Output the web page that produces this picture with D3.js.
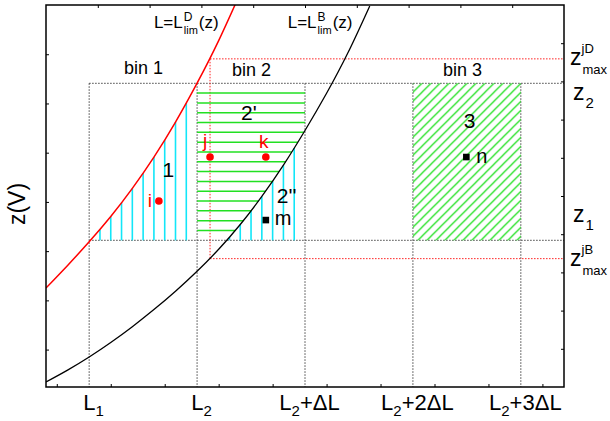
<!DOCTYPE html>
<html><head><meta charset="utf-8">
<script src="https://cdn.jsdelivr.net/npm/d3@7/dist/d3.min.js"></script>
<style>
body{margin:0;background:#fff}
svg{display:block}
text{font-family:Arial,"Liberation Sans",sans-serif;fill:#000}
</style>
</head><body>
<svg id="c" width="610" height="421"></svg>
<script>
// ---------------- data ----------------
const binEdges = [1, 2, 3, 4, 5];               // L1, L2, L2+ΔL, L2+2ΔL, L2+3ΔL
const binEdgeMain = ["L", "L", "L", "L", "L"];
const binEdgeSub = ["1", "2", "2", "2", "2"];
const binEdgeTail = ["", "", "+ΔL", "+2ΔL", "+3ΔL"];
const z1 = 3.84, z2 = 7.95;
const Lj = 2.12, zjD = 8.59, zjB = 3.36;
// L = L_lim^D(z)  (red) and L = L_lim^B(z) (black), as [L, z]
const curveD = [[0.6,2.592],[0.8,3.183],[1.0,3.801],[1.2,4.463],[1.4,5.199],[1.6,6.018],[1.8,6.935],[2.0,7.953],[2.2,9.068],[2.4,10.31]];
const curveB = [[0.6,0.131],[0.8,0.442],[1.0,0.785],[1.2,1.165],[1.4,1.579],[1.6,2.026],[1.8,2.508],[2.0,3.029],[2.2,3.605],[2.4,4.254],[2.6,4.99],[2.8,5.809],[3.0,6.715],[3.2,7.689],[3.4,8.762],[3.6,9.976]];
const redPoints = [{name:"i",L:1.646,z:4.87,dx:-7,dy:6,anchor:"end"},{name:"j",L:2.12,z:6.02,dx:-5,dy:-10,anchor:"middle"},{name:"k",L:2.637,z:6.02,dx:-2,dy:-9,anchor:"middle"}];
const blackPoints = [{name:"m",L:2.637,z:4.37,dx:9,dy:5},{name:"n",L:4.495,z:6.02,dx:10,dy:6}];
const binNames = ["bin 1", "bin 2", "bin 3"];
const binLabelL = [1.503, 2.505, 4.46];
const binLabelZ = [8.19, 8.14, 8.14];
const regionNames = ["1", "2'", "2''", "3"];
const regionL = [1.734, 2.48, 2.83, 4.526];
const regionZ = [5.505, 6.99, 4.82, 6.78];
const bottomTicks = [0.7,1.2,1.7,2.2,2.7,3.2,3.7,4.2,4.7,5.2];
const topTicks = [1.08,1.56,2.04,2.52,3.0,3.48,3.96,4.44,4.92];
const leftTicks = [1,2,3,4,5,6,7];
const rightTicks = [1,2,3,4,5,6,7,8,9];

// ---------------- layout ----------------
const X0 = 46, X1 = 564, Y0 = 5, Y1 = 387;
const x = d3.scaleLinear([0.6, 5.4], [X0, X1]);
const y = d3.scaleLinear([0, 10], [Y1, Y0]);
const yLeft = d3.scaleLinear([0.24, 8], [Y1, Y0]);
const svg = d3.select("#c");
const GREEN = "#22e022", CYAN = "#12e6f8";

svg.append("defs").append("clipPath").attr("id","plot")
  .append("rect").attr("x",X0).attr("y",Y0).attr("width",X1-X0).attr("height",Y1-Y0);
const pat = svg.select("defs").append("pattern").attr("id","diag")
  .attr("patternUnits","userSpaceOnUse").attr("width",9).attr("height",9)
  .attr("x", x(binEdges[3])).attr("y", y(z2));
pat.append("path").attr("d","M0,9L9,0M-2,2L2,-2M7,11L11,7")
  .attr("stroke",GREEN).attr("stroke-width",1.3);

const plot = svg.append("g").attr("clip-path","url(#plot)");

const line = d3.line().x(d => x(d[0])).y(d => y(d[1])).curve(d3.curveNatural);
function sample(data){
  const p = svg.append("path").attr("d", line(data)).attr("fill","none");
  const n = p.node(), len = n.getTotalLength(), pts = [];
  for (let s = 0; s <= len; s += 0.5){ const q = n.getPointAtLength(s); pts.push([q.x,q.y]); }
  p.remove(); return pts;
}
const sD = sample(curveD), sB = sample(curveB);
function yAtX(pts, px){
  for (let i=1;i<pts.length;i++){const a=pts[i-1],b=pts[i];
    if ((a[0]-px)*(b[0]-px)<=0 && a[0]!==b[0]) return a[1]+(b[1]-a[1])*(px-a[0])/(b[0]-a[0]);}
  return null;
}
function xAtY(pts, py){
  for (let i=1;i<pts.length;i++){const a=pts[i-1],b=pts[i];
    if ((a[1]-py)*(b[1]-py)<=0 && a[1]!==b[1]) return a[0]+(b[0]-a[0])*(py-a[1])/(b[1]-a[1]);}
  return null;
}

// dotted guide lines (black)
const dot = g => g.attr("stroke","#444").attr("stroke-width",1).attr("stroke-dasharray","1.5,1.5").attr("fill","none");
binEdges.forEach(L => plot.append("line").attr("x1",x(L)).attr("x2",x(L)).attr("y1",y(z2)).attr("y2",Y1).call(dot));
[z1, z2].forEach(z => plot.append("line").attr("x1",x(binEdges[0])).attr("x2",X1).attr("y1",y(z)).attr("y2",y(z)).call(dot));
// red dotted
const rdot = g => g.attr("stroke","#ff2020").attr("stroke-width",1).attr("stroke-dasharray","1.5,1.5").attr("fill","none");
plot.append("line").attr("x1",x(Lj)).attr("x2",x(Lj)).attr("y1",y(zjD)).attr("y2",y(zjB)).call(rdot);
[zjD, zjB].forEach(z => plot.append("line").attr("x1",x(Lj)).attr("x2",X1).attr("y1",y(z)).attr("y2",y(z)).call(rdot));

// hatch region 1: cyan verticals between z1 and red curve in bin 1
const step = (binEdges[1]-binEdges[0]) / 10;
for (let k=1;k<=9;k++){
  const px = x(binEdges[0]+k*step), top = yAtX(sD, px);
  if (top !== null && top < y(z1)) plot.append("line").attr("x1",px).attr("x2",px)
    .attr("y1",y(z1)).attr("y2",Math.max(top,y(z2))).attr("stroke",CYAN).attr("stroke-width",1.6);
}
// hatch region 2'': cyan verticals between z1 and black curve in bin 2
for (let k=1;k<=9;k++){
  const px = x(binEdges[1]+k*step), top = yAtX(sB, px);
  if (top !== null && top < y(z1)) plot.append("line").attr("x1",px).attr("x2",px)
    .attr("y1",y(z1)).attr("y2",Math.max(top,y(z2))).attr("stroke",CYAN).attr("stroke-width",1.6);
}
// hatch region 2': green horizontals from L2 to black curve
for (let k=1;k<=15;k++){
  const py = y(z1 + k*(z2-z1)/16), xb = xAtY(sB, py);
  const xe = Math.min(x(binEdges[2]), xb === null ? x(binEdges[2]) : xb);
  plot.append("line").attr("x1",x(binEdges[1])).attr("x2",xe).attr("y1",py).attr("y2",py)
    .attr("stroke",GREEN).attr("stroke-width",1.5);
}
// hatch region 3
plot.append("rect").attr("x",x(binEdges[3])).attr("y",y(z2))
  .attr("width",x(binEdges[4])-x(binEdges[3])).attr("height",y(z1)-y(z2)).attr("fill","url(#diag)");

// curves
plot.append("path").attr("d",line(curveD)).attr("fill","none").attr("stroke","#ff0000").attr("stroke-width",1.5);
plot.append("path").attr("d",line(curveB)).attr("fill","none").attr("stroke","#000").attr("stroke-width",1.3);

// points
plot.selectAll("circle.pt").data(redPoints).join("circle").attr("cx",d=>x(d.L)).attr("cy",d=>y(d.z)).attr("r",3.8).attr("fill","#ff0000");
plot.selectAll("rect.pt").data(blackPoints).join("rect").attr("x",d=>x(d.L)-3.3).attr("y",d=>y(d.z)-3.3).attr("width",6.6).attr("height",6.6).attr("fill","#000");
svg.selectAll("text.rp").data(redPoints).join("text").attr("x",d=>x(d.L)+d.dx).attr("y",d=>y(d.z)+d.dy)
  .attr("text-anchor",d=>d.anchor).attr("font-size",19).style("fill","#ff0000").text(d=>d.name);
svg.selectAll("text.bp").data(blackPoints).join("text").attr("x",d=>x(d.L)+d.dx).attr("y",d=>y(d.z)+d.dy)
  .attr("font-size",20).text(d=>d.name);

// region + bin labels
regionNames.forEach((t,i)=>svg.append("text").attr("x",x(regionL[i])).attr("y",y(regionZ[i])).attr("text-anchor","middle").attr("font-size",21).text(t));
binNames.forEach((t,i)=>svg.append("text").attr("x",x(binLabelL[i])).attr("y",y(binLabelZ[i])).attr("text-anchor","middle").attr("font-size",18).text(t));

// curve labels
function limLabel(L, z, letter){
  const x0 = x(L), y0 = y(z);
  const g = svg.append("g");
  const a = g.append("text").attr("x",x0).attr("y",y0).attr("font-size",17).text("L=L");
  const w = a.node().getComputedTextLength();
  const s1 = g.append("text").attr("x",x0+w+1).attr("y",y0-7).attr("font-size",12).text(letter);
  const s2 = g.append("text").attr("x",x0+w+1).attr("y",y0+6).attr("font-size",11).text("lim");
  const w2 = Math.max(s1.node().getComputedTextLength(), s2.node().getComputedTextLength());
  g.append("text").attr("x",x0+w+w2+2).attr("y",y0).attr("font-size",17).text("(z)");
}
limLabel(1.6, 9.40, "D");
limLabel(2.84, 9.40, "B");

// border + axes
const tickStyle = g => { g.select(".domain").remove(); g.selectAll(".tick line").attr("stroke","#000").attr("stroke-width",1); };
svg.append("g").attr("transform",`translate(0,${Y1})`).call(d3.axisBottom(x).tickValues(bottomTicks).tickSize(-3).tickFormat("")).call(tickStyle);
svg.append("g").attr("transform",`translate(0,${Y0})`).call(d3.axisTop(x).tickValues(topTicks).tickSize(-3).tickFormat("")).call(tickStyle);
svg.append("g").attr("transform",`translate(${X0},0)`).call(d3.axisLeft(yLeft).tickValues(leftTicks).tickSize(-3).tickFormat("")).call(tickStyle);
svg.append("g").attr("transform",`translate(${X1},0)`).call(d3.axisRight(y).tickValues(rightTicks).tickSize(-3).tickFormat("")).call(tickStyle);
svg.append("rect").attr("x",X0).attr("y",Y0).attr("width",X1-X0).attr("height",Y1-Y0)
  .attr("fill","none").attr("stroke","#000").attr("stroke-width",1.5);

// bottom labels
binEdges.forEach((L,i)=>{
  const t = svg.append("text").attr("x",x(L)+4.5).attr("y",410).attr("text-anchor","middle").attr("font-size",22);
  t.append("tspan").text(binEdgeMain[i]);
  t.append("tspan").attr("font-size",15).attr("dy",6).text(binEdgeSub[i]);
  if (binEdgeTail[i]) t.append("tspan").attr("dy",-6).text(binEdgeTail[i]);
});

// y label
svg.append("text").attr("transform",`translate(25,204) rotate(-90)`).attr("text-anchor","middle").attr("font-size",23).text("z(V)");

// right labels
function zLabel(px, base, sup, sub){
  const a = svg.append("text").attr("x",px).attr("y",base).attr("font-size",23).text("z");
  const w = a.node().getComputedTextLength();
  if (sup) svg.append("text").attr("x",px+w).attr("y",base-12).attr("font-size",13).text(sup);
  if (sub) svg.append("text").attr("x",px+w+1).attr("y",base+(sup?9:8)).attr("font-size",sup?13:15).text(sub);
}
zLabel(570, y(zjD)+6, "jD", "max");
zLabel(573, y(z2)+17, null, "2");
zLabel(573, y(z1)-18, null, "1");
zLabel(570, y(zjB)+7, "jB", "max");
</script>
</body></html>
